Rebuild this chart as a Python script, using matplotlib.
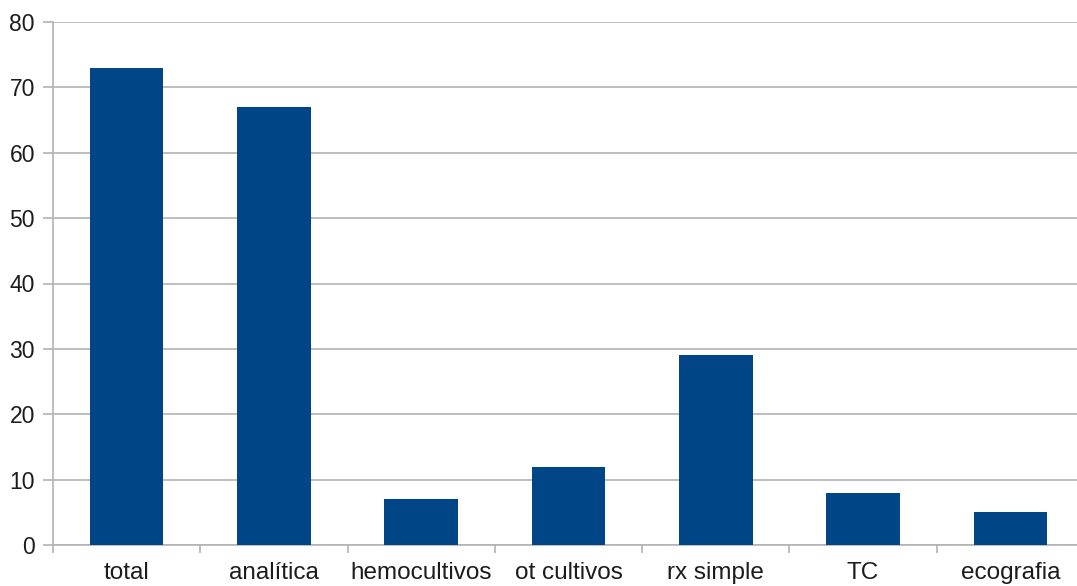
import matplotlib
matplotlib.use("Agg")
import matplotlib.pyplot as plt
import numpy as np

categories = ["total", "analítica", "hemocultivos", "ot cultivos", "rx simple", "TC", "ecografia"]
values = [73, 67, 7, 12, 29, 8, 5]
y_ticks = [0, 10, 20, 30, 40, 50, 60, 70, 80]

plt.rcParams["font.family"] = ["Liberation Sans", "DejaVu Sans"]

fig = plt.figure(figsize=(10.77, 5.86), dpi=100)
ax = fig.add_axes([53 / 1077, 1 - 545 / 586, 1031 / 1077, (545 - 22) / 586])

x = np.arange(len(categories))
ax.bar(x, values, width=0.5, color="#004586", zorder=3)

grid_color = "#b3b3b3"
text_color = "#1c1c1c"
ax.set_xlim(-0.5, len(categories) - 0.5)
ax.set_ylim(0, 80)
ax.set_yticks(y_ticks)
ax.set_yticklabels([str(v) for v in y_ticks])
ax.yaxis.grid(True, color=grid_color, linewidth=1.2, zorder=0)

# category separators as major ticks, names centred as minor ticks
ax.set_xticks(np.arange(len(categories) + 1) - 0.5)
ax.set_xticklabels([])
ax.set_xticks(x, minor=True)
ax.set_xticklabels(categories, minor=True)
ax.tick_params(axis="x", which="major", length=6, width=1.2, color=grid_color)
ax.tick_params(axis="x", which="minor", length=0, pad=12, labelsize=17.5, labelcolor=text_color)
ax.tick_params(axis="y", length=7.5, width=1.2, color=grid_color, pad=5.5,
               labelsize=16.5, labelcolor=text_color)

for side in ("top", "right"):
    ax.spines[side].set_visible(False)
for side in ("left", "bottom"):
    ax.spines[side].set_color(grid_color)
    ax.spines[side].set_linewidth(1.2)

fig.savefig("out.png", dpi=100, facecolor="white")
